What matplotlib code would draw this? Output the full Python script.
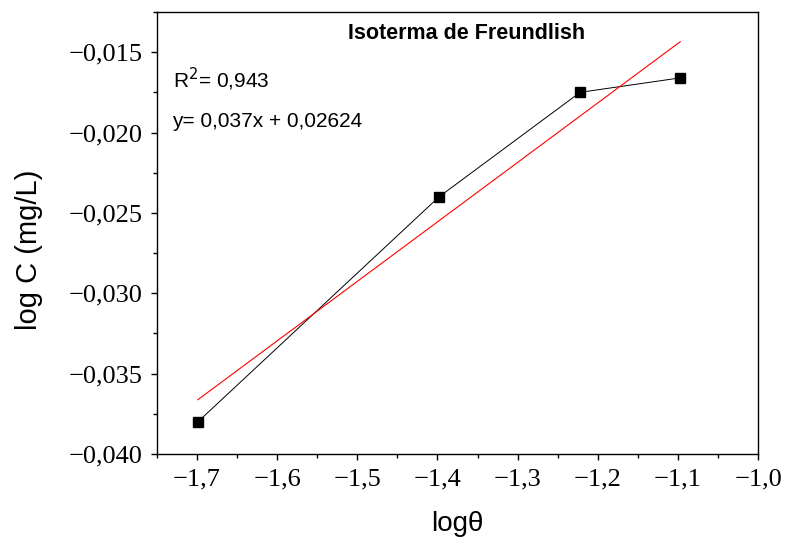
import numpy as np
import matplotlib
matplotlib.use('Agg')
import matplotlib.pyplot as plt
from matplotlib.ticker import MultipleLocator, FuncFormatter

# data
log_theta = [-1.699, -1.398, -1.222, -1.097]
log_c = [-0.0380, -0.0240, -0.0175, -0.0166]

# linear fit printed on the chart
slope = 0.037
intercept = 0.02624
r2_text = "0,943"


def comma_fmt(ndec):
    def f(v, pos):
        s = ("%." + str(ndec) + "f") % v
        return s.replace('-', '\u2212').replace('.', ',')
    return FuncFormatter(f)


fig = plt.figure(figsize=(7.86, 5.44), dpi=100)
ax = fig.add_axes([0.1997, 0.1654, 0.7647, 0.8126])

ax.plot(log_theta, log_c, color='black', lw=0.7, marker='s', ms=7.5,
        mfc='black', mec='black')

xfit = np.array([log_theta[0], log_theta[-1]])
ax.plot(xfit, slope * xfit + intercept, color='red', lw=0.8)

ax.set_xlim(-1.75, -1.0)
ax.set_ylim(-0.040, -0.0125)

ax.xaxis.set_major_locator(MultipleLocator(0.1))
ax.xaxis.set_minor_locator(MultipleLocator(0.05))
ax.yaxis.set_major_locator(MultipleLocator(0.005))
ax.yaxis.set_minor_locator(MultipleLocator(0.0025))
ax.xaxis.set_major_formatter(comma_fmt(1))
ax.yaxis.set_major_formatter(comma_fmt(3))

ax.tick_params(which='both', direction='out', top=False, right=False, width=1.0)
ax.tick_params(which='major', length=4.5, pad=6, labelsize=19)
ax.tick_params(which='minor', length=3)
for lab in ax.get_xticklabels() + ax.get_yticklabels():
    lab.set_family('Liberation Serif')
for sp in ax.spines.values():
    sp.set_linewidth(1.0)

ax.set_xlabel('log\u03b8', fontsize=20, family='Liberation Sans', labelpad=15)
ax.set_ylabel('log C (mg/L)', fontsize=21, family='Liberation Sans')
ax.yaxis.set_label_coords(-0.19, 0.4615)

ax.text(0.515, 0.952, 'Isoterma de Freundlish', transform=ax.transAxes,
        ha='center', va='center', fontsize=15.5, fontweight='bold',
        family='Liberation Sans')
ax.text(0.027, 0.848, 'R$^2$= ' + r2_text, transform=ax.transAxes,
        ha='left', va='center', fontsize=15, family='Liberation Sans')
ax.text(0.025, 0.753, 'y= 0,037x + 0,02624', transform=ax.transAxes,
        ha='left', va='center', fontsize=15, family='Liberation Sans')

fig.savefig('out.png', dpi=100)
